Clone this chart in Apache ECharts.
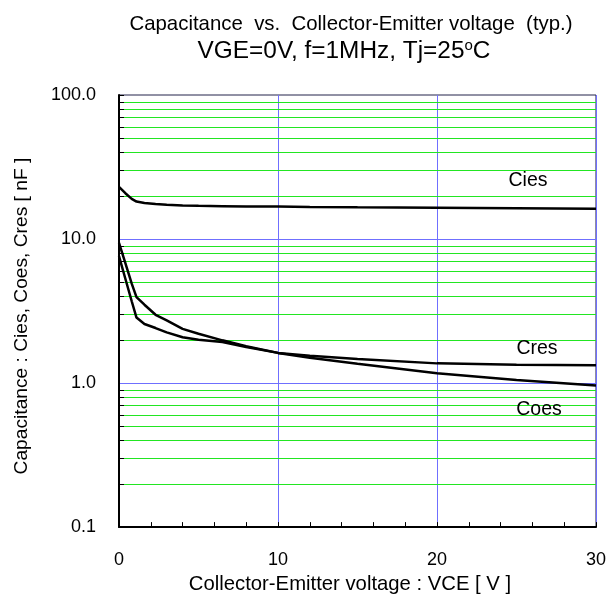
<!DOCTYPE html>
<html><head><meta charset="utf-8">
<script src="https://cdn.jsdelivr.net/npm/echarts@6/dist/echarts.min.js"></script>
<style>html,body{margin:0;padding:0;background:#fff}#c{width:609px;height:599px}</style>
</head><body><div id="c"></div>
<script>
const vce  = [0, 0.4, 0.8, 1.1, 1.6, 2.3, 3, 4, 5, 6.5, 8, 10, 12, 15, 20, 25, 30];
const cies = [23, 20.8, 19.0, 18.2, 17.8, 17.5, 17.3, 17.1, 17.0, 16.9, 16.8, 16.8, 16.7, 16.6, 16.5, 16.35, 16.2];
const coes = [9.4, 6.8, 4.9, 3.95, 3.5, 2.98, 2.72, 2.38, 2.2, 1.98, 1.8, 1.62, 1.5, 1.36, 1.17, 1.05, 0.96];
const cres = [7.6, 5.3, 3.7, 2.85, 2.57, 2.41, 2.25, 2.08, 2.0, 1.93, 1.78, 1.62, 1.55, 1.47, 1.37, 1.34, 1.33];
const xTicks = [0, 10, 20, 30];
const yDecades = [0.1, 1, 10, 100];
const yMajorGrid = [1, 10];
const yMinorGrid = [0.2,0.3,0.4,0.5,0.6,0.7,0.8,0.9, 2,3,4,5,6,7,8,9, 20,30,40,50,60,70,80,90];
const curveNames = ['Cies', 'Coes', 'Cres'];
const titleText = 'Capacitance  vs.  Collector-Emitter voltage  (typ.)';
const subTitleText = 'VGE=0V, f=1MHz, Tj=25{s|o}C';
const xName = 'Collector-Emitter voltage : VCE [ V ]';
const yName = 'Capacitance : Cies, Coes, Cres [ nF ]';

const FONT = 'Liberation Sans, Arial, sans-serif';
const BLUE = '#6f6fff';
const GREEN = '#22e622';
const X_MIN = 0, X_MAX = 30;

const chart = echarts.init(document.getElementById('c'), null, {renderer: 'canvas'});

function line(name, vals) {
  return {
    name, type: 'line', z: 5, showSymbol: false, symbol: 'none', smooth: false,
    lineStyle: {color: '#000', width: 2.5},
    data: vce.map((x, i) => [x, vals[i]])
  };
}

function gridLines(values, color, withTick) {
  return {
    type: 'custom', z: 1, silent: true, clip: false,
    encode: {x: 0, y: 1},
    data: values.map(v => [X_MIN, v]),
    renderItem: (params, api) => {
      const v = api.value(1);
      const p0 = api.coord([X_MIN, v]);
      const p1 = api.coord([X_MAX, v]);
      const y = Math.round(p0[1]) + 0.5;
      const children = [
        {type: 'line', shape: {x1: p0[0] + 1, y1: y, x2: p1[0], y2: y}, style: {stroke: color, lineWidth: 1}}
      ];
      if (withTick) {
        children.push({type: 'line', z2: 10, shape: {x1: p0[0], y1: y, x2: p0[0] + 5, y2: y}, style: {stroke: '#000', lineWidth: 1}});
      }
      return {type: 'group', children};
    }
  };
}

chart.setOption({
  animation: false,
  textStyle: {fontFamily: FONT},
  title: [
    {text: titleText, left: 346, top: 9, textAlign: 'center',
     textStyle: {fontFamily: FONT, fontSize: 20.4, fontWeight: 'normal', color: '#000'}},
    {text: subTitleText, left: 339, top: 33, textAlign: 'center',
     textStyle: {fontFamily: FONT, fontSize: 24.4, fontWeight: 'normal', color: '#000',
       rich: {s: {fontFamily: FONT, fontSize: 15, verticalAlign: 'top', padding: [0,0,12,0]}}}}
  ],
  grid: {left: 119, right: 11, top: 95, bottom: 71, show: true, borderColor: '#22224a', borderWidth: 1, containLabel: false},
  xAxis: {
    type: 'value', min: X_MIN, max: X_MAX, interval: 10,
    name: xName, nameLocation: 'middle', nameGap: 45,
    nameTextStyle: {fontFamily: FONT, fontSize: 20.3, color: '#000', padding: [0, 15, 0, 0]},
    axisLine: {show: true, lineStyle: {color: '#000', width: 2}},
    axisTick: {show: true, inside: true, length: 5, lineStyle: {color: '#000'}},
    minorTick: {show: true, splitNumber: 5, length: 5, lineStyle: {color: '#000'}},
    axisLabel: {fontFamily: FONT, fontSize: 18, color: '#000', margin: 24},
    splitLine: {show: true, lineStyle: {color: BLUE, width: 1}}
  },
  yAxis: {
    type: 'log', logBase: 10, min: 0.1, max: 100,
    name: yName, nameLocation: 'middle', nameGap: 88,
    nameTextStyle: {fontFamily: FONT, fontSize: 19.2, color: '#000', padding: [0, 10, 0, 0]},
    axisLine: {show: true, lineStyle: {color: '#000', width: 2}},
    axisTick: {show: true, inside: true, length: 5, lineStyle: {color: '#000'}},
    axisLabel: {fontFamily: FONT, fontSize: 18, color: '#000', margin: 23,
      formatter: v => Number(v).toFixed(1)},
    splitLine: {show: false},
    minorTick: {show: false},
    minorSplitLine: {show: false}
  },
  series: [
    gridLines(yMinorGrid, GREEN, true),
    gridLines(yMajorGrid, BLUE, false),
    line(curveNames[0], cies),
    line(curveNames[1], coes),
    line(curveNames[2], cres)
  ],
  graphic: [
    {type: 'text', x: 528, y: 181, z: 10, style: {text: curveNames[0], font: '19.5px ' + FONT, fill: '#000', textAlign: 'center', textVerticalAlign: 'middle'}},
    {type: 'text', x: 537, y: 349, z: 10, style: {text: curveNames[2], font: '19.5px ' + FONT, fill: '#000', textAlign: 'center', textVerticalAlign: 'middle'}},
    {type: 'text', x: 539, y: 410, z: 10, style: {text: curveNames[1], font: '19.5px ' + FONT, fill: '#000', textAlign: 'center', textVerticalAlign: 'middle'}}
  ]
});
</script></body></html>
